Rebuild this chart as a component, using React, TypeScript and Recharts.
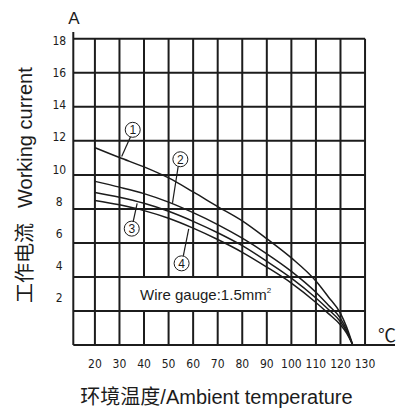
import React from 'react';
import { LineChart, Line, XAxis, YAxis, ReferenceLine, ReferenceDot } from 'recharts';

// ambient temperature (°C) sampled along the derating curves
const temps = [20, 30, 40, 50, 60, 70, 80, 90, 100, 110, 115, 120, 122.5, 125];
// working current (A) for curves ① - ④
const curve1 = [11.6, 11.02, 10.47, 9.82, 9.0, 8.14, 7.3, 6.25, 5.12, 3.76, 2.84, 1.86, 1.05, 0];
const curve2 = [9.62, 9.28, 8.9, 8.4, 7.78, 7.08, 6.28, 5.36, 4.33, 3.1, 2.35, 1.57, 0.9, 0];
const curve3 = [8.97, 8.69, 8.33, 7.86, 7.27, 6.6, 5.84, 4.92, 3.93, 2.76, 2.1, 1.37, 0.8, 0];
const curve4 = [8.5, 8.24, 7.9, 7.45, 6.87, 6.2, 5.45, 4.58, 3.64, 2.5, 1.86, 1.18, 0.7, 0];

const xTicks = [20, 30, 40, 50, 60, 70, 80, 90, 100, 110, 120, 130];
const yTicks = [2, 4, 6, 8, 10, 12, 14, 16, 18];
// columns whose grid line is interrupted by the wire gauge note (row 2..4)
const noteCols = [40, 50, 60, 70, 80, 90];

// circled curve numbers: circle centre + leader line (in data units)
const markers = [
  { id: '1', cx: 35.4, cy: 12.65, x1: 34.5, y1: 12.24, x2: 30.9, y2: 11.08 },
  { id: '2', cx: 54.8, cy: 10.92, x1: 53.9, y1: 10.49, x2: 51.6, y2: 8.35 },
  { id: '3', cx: 35.0, cy: 6.84, x1: 35.6, y1: 7.27, x2: 37.2, y2: 8.33 },
  { id: '4', cx: 55.3, cy: 4.8, x1: 56.0, y1: 5.24, x2: 58.2, y2: 6.82 },
];

const data = temps.map((t, i) => ({ t, c1: curve1[i], c2: curve2[i], c3: curve3[i], c4: curve4[i] }));

const INK = '#1c1c1c';
const NARROW = "'Liberation Sans Narrow', 'Arial Narrow', 'DejaVu Sans Condensed', sans-serif";
const SANS = "'Liberation Sans', Arial, 'Noto Sans CJK SC', sans-serif";

const YTick = ({ x, y, payload }: any) => (
  <text
    x={x - 6}
    y={y + 2 - (18 - payload.value) * 0.95 + 4.3}
    textAnchor="middle"
    fontSize={12}
    fontFamily={NARROW}
    fill={INK}
  >
    {payload.value}
  </text>
);

const XTick = ({ x, y, payload }: any) => (
  <text x={x} y={y + 14.5} textAnchor="middle" fontSize={12} fontFamily={NARROW} fill={INK}>
    {payload.value}
  </text>
);

export default function App() {
  const gridV = xTicks.flatMap((v) =>
    noteCols.includes(v)
      ? [
          [{ x: v, y: 0 }, { x: v, y: 2 }],
          [{ x: v, y: 4 }, { x: v, y: 18 }],
        ]
      : [[{ x: v, y: 0 }, { x: v, y: 18 }]]
  );
  const gridH = yTicks.map((v) => [{ x: 11.2, y: v }, { x: 130, y: v }]);

  return (
    <div style={{ position: 'absolute', left: 0, top: 0, width: 406, height: 409, background: '#fff' }}>
      <LineChart
        width={406}
        height={409}
        data={data}
        margin={{ top: 32, right: 11, bottom: 34, left: 43.3 }}
      >
        <XAxis
          dataKey="t"
          type="number"
          domain={[11.2, 142.2]}
          ticks={xTicks}
          interval={0}
          height={30}
          tickLine={false}
          axisLine={{ stroke: INK, strokeWidth: 2 }}
          tick={<XTick />}
          allowDataOverflow
        />
        <YAxis
          type="number"
          domain={[0, 18.4]}
          ticks={yTicks}
          interval={0}
          width={30}
          tickLine={false}
          axisLine={{ stroke: INK, strokeWidth: 2 }}
          tick={<YTick />}
          allowDataOverflow
        />
        {gridV.map((seg, i) => (
          <ReferenceLine key={'v' + i} segment={seg as any} stroke={INK} strokeWidth={2} />
        ))}
        {gridH.map((seg, i) => (
          <ReferenceLine key={'h' + i} segment={seg as any} stroke={INK} strokeWidth={2} />
        ))}
        <Line type="monotone" dataKey="c1" stroke={INK} strokeWidth={1.5} dot={false} activeDot={false} isAnimationActive={false} />
        <Line type="monotone" dataKey="c2" stroke={INK} strokeWidth={1.5} dot={false} activeDot={false} isAnimationActive={false} />
        <Line type="monotone" dataKey="c3" stroke={INK} strokeWidth={1.5} dot={false} activeDot={false} isAnimationActive={false} />
        <Line type="monotone" dataKey="c4" stroke={INK} strokeWidth={1.5} dot={false} activeDot={false} isAnimationActive={false} />
        {markers.map((m) => (
          <ReferenceLine
            key={'l' + m.id}
            segment={[{ x: m.x1, y: m.y1 }, { x: m.x2, y: m.y2 }]}
            stroke={INK}
            strokeWidth={1.2}
          />
        ))}
        {markers.map((m) => (
          <ReferenceDot
            key={'d' + m.id}
            x={m.cx}
            y={m.cy}
            r={7.5}
            fill="#fff"
            stroke={INK}
            strokeWidth={1}
            label={{ value: m.id, position: 'center', fontSize: 12, fill: INK, fontFamily: SANS }}
          />
        ))}
      </LineChart>
      <svg
        width={406}
        height={409}
        style={{ position: 'absolute', left: 0, top: 0, pointerEvents: 'none' }}
        fontFamily={SANS}
        fill={INK}
      >
        <text x={74} y={23.5} textAnchor="middle" fontSize={17}>A</text>
        <text x={387} y={342} textAnchor="middle" fontSize={18}>℃</text>
        <text x={32} y={303} transform="rotate(-90 32 303)" fontSize={20}>
          工作电流<tspan dx={15}>Working current</tspan>
        </text>
        <text x={216.5} y={404} textAnchor="middle" fontSize={20}>环境温度/Ambient temperature</text>
        <text x={140} y={300} fontSize={15}>
          Wire gauge:1.5mm<tspan dy={-7} fontSize={8}>2</tspan>
        </text>
      </svg>
    </div>
  );
}
